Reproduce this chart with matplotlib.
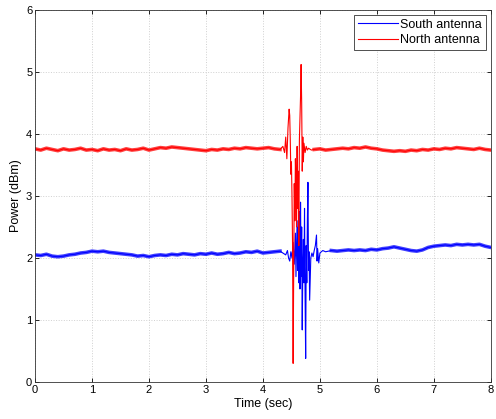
import numpy as np
import matplotlib
matplotlib.use("Agg")
import matplotlib.pyplot as plt

# north antenna (red): quiet part, burst, quiet part
red_t_pre = np.round(np.arange(0, 4.31, 0.1), 2)
red_v_pre = [3.76, 3.74, 3.77, 3.75, 3.73, 3.76, 3.74, 3.75, 3.77, 3.74,
             3.75, 3.73, 3.76, 3.74, 3.75, 3.73, 3.76, 3.74, 3.75, 3.77,
             3.74, 3.76, 3.78, 3.77, 3.79, 3.78, 3.77, 3.76, 3.75, 3.74,
             3.73, 3.75, 3.74, 3.76, 3.75, 3.77, 3.76, 3.78, 3.77, 3.76,
             3.77, 3.78, 3.76, 3.75]
red_t_burst = [4.35, 4.38, 4.40, 4.42, 4.44, 4.46, 4.47, 4.48, 4.49, 4.50,
               4.51, 4.52, 4.53, 4.54, 4.55, 4.56, 4.57, 4.58, 4.59, 4.60,
               4.61, 4.62, 4.63, 4.64, 4.66, 4.67, 4.68, 4.69, 4.70, 4.71,
               4.72, 4.74, 4.76, 4.78, 4.80, 4.85]
red_v_burst = [3.80, 3.70, 3.95, 3.60, 4.10, 4.40, 4.30, 3.90, 3.35, 3.55,
               3.00, 2.20, 0.30, 1.80, 3.20, 2.60, 3.60, 3.15, 2.50, 3.80,
               2.80, 3.40, 2.20, 3.90, 4.60, 5.12, 4.50, 3.40, 3.95, 3.55,
               3.85, 3.70, 3.80, 3.74, 3.77, 3.74]
red_t_post = np.round(np.arange(4.9, 8.01, 0.1), 2)
red_v_post = [3.75, 3.76, 3.74, 3.75, 3.76, 3.77, 3.76, 3.78, 3.77, 3.79,
              3.77, 3.76, 3.74, 3.73, 3.72, 3.73, 3.72, 3.74, 3.73, 3.75,
              3.74, 3.76, 3.75, 3.77, 3.76, 3.78, 3.77, 3.76, 3.75, 3.77,
              3.75, 3.74]

# south antenna (blue)
blue_t_pre = np.round(np.arange(0, 4.31, 0.1), 2)
blue_v_pre = [2.05, 2.04, 2.06, 2.03, 2.02, 2.03, 2.05, 2.06, 2.08, 2.09,
              2.11, 2.10, 2.11, 2.09, 2.08, 2.07, 2.06, 2.05, 2.03, 2.04,
              2.02, 2.04, 2.05, 2.04, 2.06, 2.05, 2.07, 2.06, 2.05, 2.07,
              2.06, 2.08, 2.06, 2.07, 2.09, 2.07, 2.08, 2.10, 2.09, 2.11,
              2.08, 2.09, 2.10, 2.11]
blue_t_burst = [4.35, 4.40, 4.43, 4.45, 4.47, 4.49, 4.51, 4.53, 4.55, 4.57,
                4.58, 4.60, 4.61, 4.62, 4.63, 4.64, 4.65, 4.66, 4.67, 4.68,
                4.69, 4.70, 4.71, 4.72, 4.73, 4.74, 4.75, 4.76, 4.77, 4.78,
                4.79, 4.80, 4.81, 4.82, 4.84, 4.86, 4.88, 4.90, 4.92, 4.94,
                4.95, 4.96, 4.98, 5.00, 5.05, 5.10]
blue_v_burst = [2.08, 2.05, 2.12, 2.00, 1.95, 2.10, 2.00, 2.25, 1.90, 2.40,
                1.70, 2.60, 1.80, 2.50, 1.60, 2.75, 1.50, 2.90, 1.70, 2.50,
                0.84, 1.90, 2.30, 1.60, 2.80, 1.40, 0.38, 2.20, 1.60, 2.60,
                3.22, 1.80, 2.10, 1.32, 2.00, 2.08, 2.02, 2.12, 2.20, 2.37,
                1.95, 2.15, 1.92, 2.08, 2.12, 2.10]
blue_t_post = np.round(np.arange(5.2, 8.01, 0.1), 2)
blue_v_post = [2.12, 2.11, 2.12, 2.13, 2.12, 2.13, 2.12, 2.14, 2.13, 2.15,
               2.16, 2.18, 2.16, 2.14, 2.12, 2.11, 2.13, 2.17, 2.19, 2.20,
               2.21, 2.20, 2.22, 2.21, 2.22, 2.21, 2.22, 2.19, 2.17]

red_t = np.concatenate([red_t_pre, red_t_burst, red_t_post])
red_v = np.concatenate([red_v_pre, red_v_burst, red_v_post])
blue_t = np.concatenate([blue_t_pre, blue_t_burst, blue_t_post])
blue_v = np.concatenate([blue_v_pre, blue_v_burst, blue_v_post])

plt.rcParams['font.family'] = ['Liberation Sans', 'DejaVu Sans']

fig = plt.figure(figsize=(4.96, 4.19), dpi=100)
ax = fig.add_axes([0.0706, 0.0883, 0.919, 0.888])

ax.plot(blue_t, blue_v, color=(0, 0, 1), lw=0.8, label='South antenna')
ax.plot(red_t, red_v, color=(1, 0, 0), lw=0.8, label='North antenna')
# thicker band for the noisy quiet parts
for t, v, c in [(blue_t_pre, blue_v_pre, (0, 0, 1)), (blue_t_post, blue_v_post, (0, 0, 1)),
                (red_t_pre, red_v_pre, (1, 0, 0)), (red_t_post, red_v_post, (1, 0, 0))]:
    ax.plot(t, v, color=c, lw=2.6, alpha=0.75)

ax.set_xlim(0, 8)
ax.set_ylim(0, 6)
ax.set_xticks(range(0, 9))
ax.set_yticks(range(0, 7))
ax.grid(True, color='#d0d0d0', linestyle=':', linewidth=0.7)
ax.tick_params(direction='in', top=True, right=True, labelsize=8, length=3, width=0.6, pad=2)
for s in ax.spines.values():
    s.set_linewidth(0.6)
    s.set_color('#333333')
ax.set_xlabel('Time (sec)', fontsize=9, labelpad=2)
ax.set_ylabel('Power (dBm)', fontsize=9, labelpad=3)

leg = ax.legend(loc='upper right', fontsize=9, fancybox=False, framealpha=1,
                edgecolor='#333333', borderpad=0.3, labelspacing=0.3,
                handlelength=3.2, handletextpad=0.2, borderaxespad=0.4)
leg.get_frame().set_linewidth(0.6)

fig.savefig('out.png', dpi=100)
